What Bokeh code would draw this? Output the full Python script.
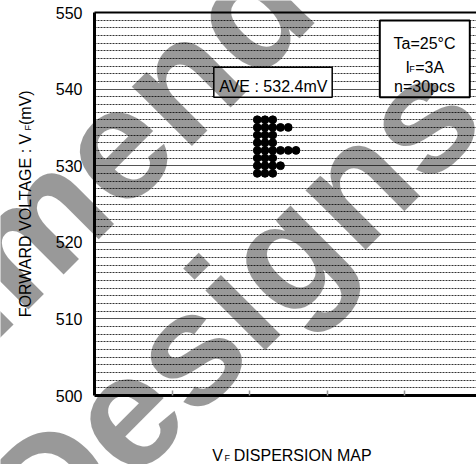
import math
from bokeh.plotting import figure
from bokeh.models import Label, SingleIntervalTicker, FixedTicker, Range1d, LinearAxis, CustomJSTickFormatter, GridBox
from bokeh.embed import file_html
from bokeh.resources import INLINE

# ---- data ----
levels = [536, 535, 534, 533, 532, 531, 530, 529]   # VF (mV)
counts = [3, 5, 3, 3, 6, 3, 4, 3]                   # pieces per level
col_start = 2.1
col_step = 0.1
y_ticks = [500, 510, 520, 530, 540, 550]
x_ticks = [1, 2, 3, 4]
ave_text = "AVE : 532.4mV"
cond_ta = "Ta=25°C"
cond_if = ["I", "F", "=3A"]
cond_n = "n=30pcs"
ylab = ["FORWARD VOLTAGE : V", "F", "(mV)"]
xlab = ["V", "F", "DISPERSION MAP"]
wm_lines = ["Recommended", "Designs"]

FONT = "Liberation Sans"
W, H = 476, 464
L, R, T, B = 94, 0, 12, 69
FW = W - L - R
FH = H - T - B
X_PX = 77.5
X0, X1 = 0, FW / X_PX
Y0, Y1 = 500, 550


def d(xp, yp):
    """picture pixel -> data coordinates of the main plot"""
    return (X0 + (xp - L) / X_PX, Y0 + (T + FH - yp) * (Y1 - Y0) / FH)


xs, ys = [], []
for lv, c in zip(levels, counts):
    for k in range(c):
        xs.append(col_start + col_step * k)
        ys.append(lv)

p = figure(width=W, height=H, x_range=Range1d(X0, X1), y_range=Range1d(Y0, Y1),
           output_backend="svg", toolbar_location=None,
           min_border_left=L, min_border_right=R, min_border_top=T, min_border_bottom=B)
p.frame_align = False
p.outline_line_color = None
p.background_fill_color = "white"
p.border_fill_color = "white"

yt = SingleIntervalTicker(interval=10, num_minor_ticks=10)
p.yaxis.ticker = yt
p.yaxis.major_tick_in = 0
p.yaxis.major_tick_out = 0
p.yaxis.minor_tick_in = 0
p.yaxis.minor_tick_out = 0
p.yaxis.axis_line_width = 3
p.yaxis.axis_line_color = "black"
p.yaxis.major_label_text_font = FONT
p.yaxis.major_label_text_font_size = "16px"
p.yaxis.major_label_text_color = "black"
p.yaxis.major_label_standoff = 12

p.xaxis.ticker = FixedTicker(ticks=x_ticks)
p.xaxis.formatter = CustomJSTickFormatter(code="return ''")
p.xaxis.major_tick_in = 5
p.xaxis.major_tick_out = 0
p.xaxis.major_tick_line_color = "#999999"
p.xaxis.major_tick_line_width = 1.5
p.xaxis.minor_tick_in = 0
p.xaxis.minor_tick_out = 0
p.xaxis.axis_line_width = 3
p.xaxis.axis_line_color = "black"

top = LinearAxis(ticker=FixedTicker(ticks=[]), formatter=CustomJSTickFormatter(code="return ''"),
                 major_tick_in=0, major_tick_out=0, minor_tick_in=0, minor_tick_out=0,
                 axis_line_width=2, axis_line_color="black", major_label_standoff=0)
p.add_layout(top, "above")

p.xgrid.visible = False
p.ygrid.ticker = yt
p.ygrid.grid_line_color = "#555555"
p.ygrid.grid_line_width = 1.2
p.ygrid.minor_grid_line_color = "#333333"
p.ygrid.minor_grid_line_dash = "2 1"
p.ygrid.minor_grid_line_width = 1

p.scatter(xs, ys, size=7.8, color="black", marker="circle")


def lab(fig, text, x, y, size="16px", align="left", angle=0.0, **kw):
    lb = Label(x=x, y=y, text=text, text_font=FONT, text_font_size=size, text_color="black",
               text_align=align, text_baseline="alphabetic", angle=angle, **kw)
    fig.add_layout(lb)
    return lb


def box(x0p, y0p, x1p, y1p, lw):
    a = d(x0p, y0p)
    b = d(x1p, y1p)
    p.quad(left=a[0], right=b[0], top=a[1], bottom=b[1], fill_color="white",
           line_color="black", line_width=lw)


# AVE box
box(213.3, 66.7, 331.7, 96.7, 1.5)
lab(p, ave_text, *d(272.8, 86), align="center")

# condition box
box(379.3, 20, 469.3, 96.7, 2)
lab(p, cond_ta, *d(424, 42.7), align="center")
lab(p, cond_if[0], *d(405, 66.7))
lab(p, cond_if[1], *d(408.7, 68.5), size="9px")
lab(p, cond_if[2], *d(414.7, 66.7))
lab(p, cond_n, *d(424, 86), align="center")

# ---- overlay figure (whole canvas) for axis titles and the watermark ----
q = figure(width=W, height=H, x_range=Range1d(0, W), y_range=Range1d(H, 0),
           output_backend="svg", toolbar_location=None, min_border=0,
           x_axis_location=None, y_axis_location=None)
q.frame_align = False
q.grid.visible = False
q.outline_line_color = None
q.background_fill_alpha = 0
q.border_fill_alpha = 0

# x axis title
lab(q, xlab[0], 211.7, 455)
lab(q, xlab[1], 224, 457.5, size="9px")
lab(q, xlab[2], 233.3, 455)

# y axis title (rotated)
ang = math.pi / 2
lab(q, ylab[0], 25, 316.7, angle=ang)
lab(q, ylab[1], 27.5, 130, size="9px", angle=ang)
lab(q, ylab[2], 25, 124.5, angle=ang)

# watermark
for t, (xp, yp) in zip(wm_lines, [(-396.5, 655), (10, 526)]):
    q.add_layout(Label(x=xp, y=yp, text=t, text_font=FONT, text_font_size="160px",
                       text_font_style="bold", text_color="black", text_alpha=0.4,
                       text_align="left", text_baseline="alphabetic",
                       angle=math.pi / 4, level="overlay"))

layout = GridBox(children=[(p, 0, 0), (q, 0, 0)])
open("out.html", "w").write(file_html(layout, INLINE))
